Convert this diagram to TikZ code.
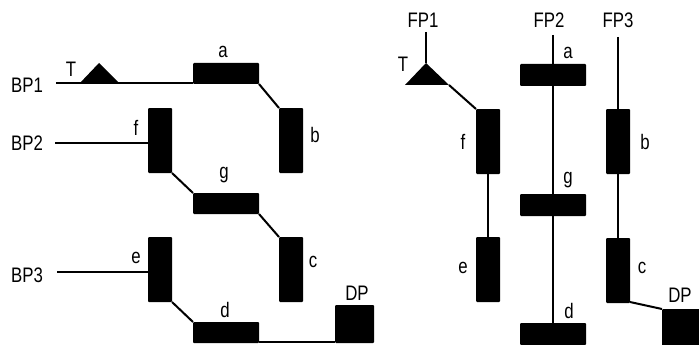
\documentclass[tikz,border=0pt]{standalone}
\usepackage{fontspec}
\setmainfont{Liberation Sans}[FakeStretch=0.8]
\begin{document}
\begin{tikzpicture}[x=1pt,y=-1pt,
  blk/.style={fill=black,draw=none,rounded corners=1pt,inner sep=0pt,outer sep=0pt,anchor=north west},
  hbox/.style={blk,minimum width=66pt,minimum height=21pt},
  vbox/.style={blk,minimum width=24pt,minimum height=65pt},
  dpbox/.style={blk,minimum width=39pt,minimum height=38pt},
  wire/.style={line width=2pt},
  lbl/.style={font=\fontsize{21}{21}\selectfont,inner sep=0pt}]
\clip (0,0) rectangle (699,345);
\fill[white] (0,0) rectangle (699,345);

% ---------- left diagram ----------
\node[hbox] (La) at (193,63) {};
\node[vbox] (Lb) at (279,108) {};
\node[vbox] (Lf) at (148,108) {};
\node[hbox] (Lg) at (193,193) {};
\node[vbox] (Lc) at (279,237) {};
\node[vbox] (Le) at (148,237) {};
\node[hbox] (Ld) at (193,322) {};
\node[dpbox] (Ldp) at (335,305) {};

\coordinate (bp1) at (56,83);
\coordinate (bp2) at (55,143);
\coordinate (bp3) at (57,272);
\coordinate (tl1) at (79,84);
\coordinate (tl2) at (99,63);
\coordinate (tl3) at (120,84);

\draw[wire] (bp1) -- (bp1 -| La.west);
\fill (tl1) -- (tl2) -- (tl3) -- cycle;
\draw[wire] (La.south east) -- (Lb.north west);
\draw[wire] (bp2) -- (bp2 -| Lf.west);
\draw[wire] (Lf.south east) -- (Lg.north west);
\draw[wire] (Lg.south east) -- (Lc.north west);
\draw[wire] (bp3) -- (bp3 -| Le.west);
\draw[wire] (Le.south east) -- (Ld.north west);
\draw[wire] ([yshift=1pt]Ld.south east) -- ([yshift=1pt]Ldp.south west);

\node[lbl] (lBP1) at (27,85) {BP1};
\node[lbl] (lBP2) at (27,143) {BP2};
\node[lbl] (lBP3) at (27,275) {BP3};
\node[lbl] (lT) at (71,69) {T};
\node[lbl] (la) at (223,52) {a};
\node[lbl] (lb) at (315,135) {b};
\node[lbl] (lf) at (136,128) {f};
\node[lbl] (lg) at (224,175) {g};
\node[lbl] (lc) at (313,262) {c};
\node[lbl] (le) at (136,258) {e};
\node[lbl] (ld) at (225,310) {d};
\node[lbl] (lDP) at (357,293) {DP};

% ---------- right diagram ----------
\node[vbox] (Rf) at (476,109) {};
\node[vbox] (Re) at (476,237) {};
\node[hbox,minimum height=22pt] (Ra) at (520,64) {};
\node[hbox,minimum height=22pt] (Rg) at (520,194) {};
\node[hbox,minimum height=22pt] (Rd) at (520,323) {};
\node[vbox] (Rb) at (606,109) {};
\node[vbox] (Rc) at (606,238) {};
\node[dpbox,minimum width=40pt] (Rdp) at (662,309) {};

\coordinate (fp1) at (426,32);
\coordinate (tr1) at (426,63);
\coordinate (tr2) at (405,85);
\coordinate (tr3) at (449,85);
\coordinate (fp2) at (553,35);
\coordinate (fp3) at (618,37);

\draw[wire] (fp1) -- (tr1);
\fill (tr1) -- (tr2) -- (tr3) -- cycle;
\draw[wire] (tr3) -- (Rf.north west);
\draw[wire] (Rf.south) -- (Re.north);
\draw[wire] (fp2) -- (Ra.north);
\draw[wire] (Ra.south) -- (Rg.north);
\draw[wire] (Rg.south) -- (Rd.north);
\draw[wire] (fp3) -- (Rb.north);
\draw[wire] (Rb.south) -- (Rc.north);
\draw[wire] ([yshift=1pt]Rc.south east) -- (Rdp.north west);

\node[lbl] (rFP1) at (423,20) {FP1};
\node[lbl] (rFP2) at (549,20) {FP2};
\node[lbl] (rFP3) at (618,20) {FP3};
\node[lbl] (rT) at (403,64) {T};
\node[lbl] (rf) at (463,142) {f};
\node[lbl] (re) at (463,268) {e};
\node[lbl] (ra) at (568,53) {a};
\node[lbl] (rg) at (568,180) {g};
\node[lbl] (rd) at (569,311) {d};
\node[lbl] (rb) at (645,142) {b};
\node[lbl] (rc) at (642,268) {c};
\node[lbl] (rDP) at (680,295) {DP};
\end{tikzpicture}
\end{document}
